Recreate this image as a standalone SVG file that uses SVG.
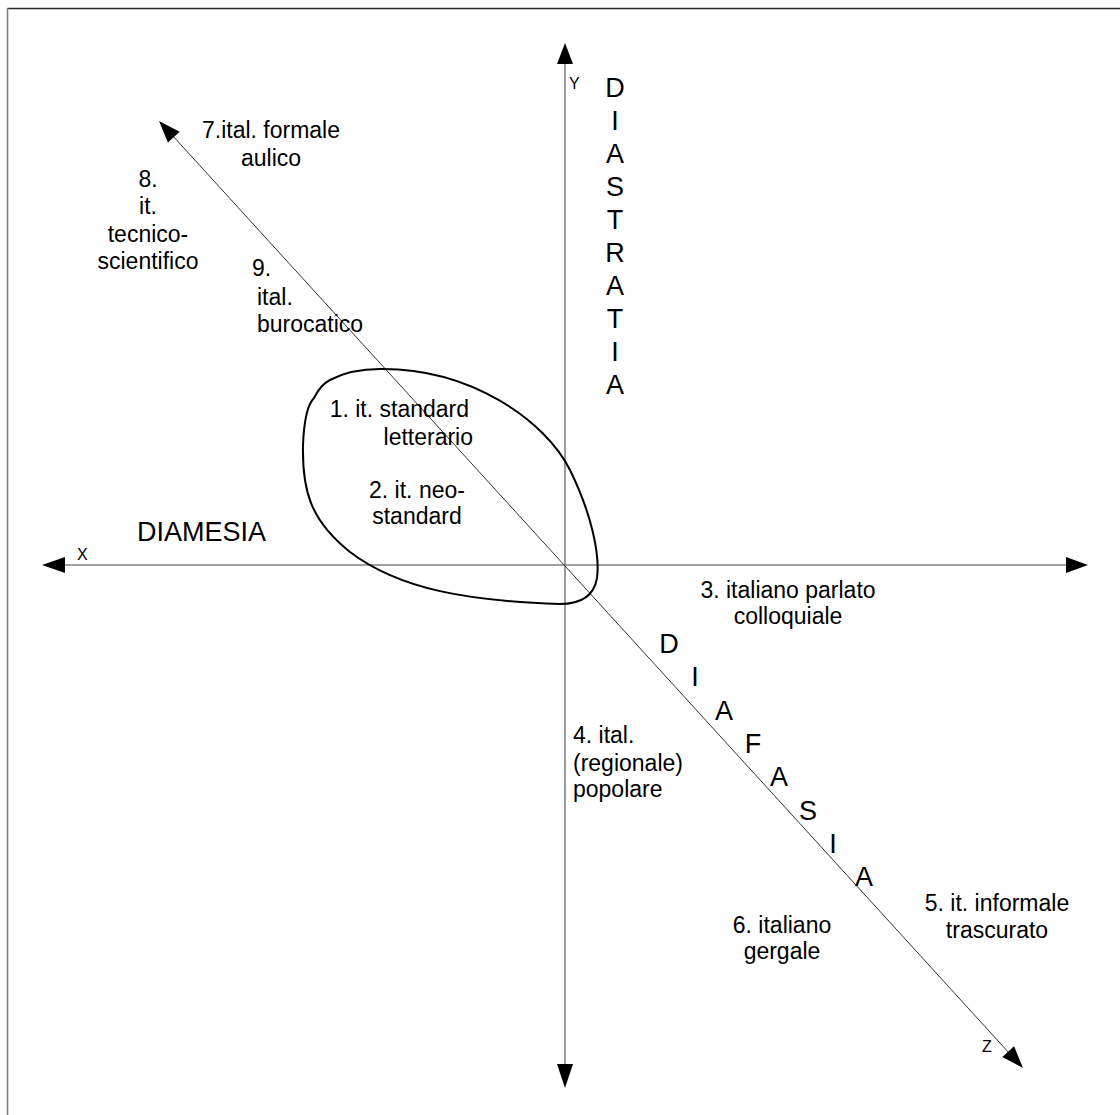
<svg xmlns="http://www.w3.org/2000/svg" width="1120" height="1115" viewBox="0 0 1120 1115">
<style>
text{font-family:"Liberation Sans",Arial,sans-serif;fill:#000}
.lb{font-size:23px}
.big{font-size:27px}
.ax{font-size:16px}
.axis{stroke:#808080;stroke-width:1.6;fill:none}
.diag{stroke:#333;stroke-width:1;fill:none}
.head{fill:#000;stroke:none}
</style>
<rect width="1120" height="1115" fill="#fff"/>
<g id="frame">
<line x1="7.5" y1="8.5" x2="1120" y2="8.5" stroke="#2a2a2a" stroke-width="1.6"/>
<line x1="7.5" y1="8" x2="7.5" y2="1115" stroke="#808080" stroke-width="1.6"/>
</g>
<g id="connectors">
<line class="axis" x1="64" y1="565" x2="1067" y2="565"/>
<polygon class="head" points="42,565 65,557 65,573"/>
<polygon class="head" points="1088,565 1066,557 1066,573"/>
<line class="axis" x1="565" y1="63" x2="565" y2="1065"/>
<polygon class="head" points="565,43 557,64 573,64"/>
<polygon class="head" points="565,1088 557,1064 573,1064"/>
<line class="diag" x1="172" y1="135" x2="1010" y2="1054"/>
<polygon class="head" points="159,121 179.7,131.8 167.9,142.6"/>
<polygon class="head" points="1023,1068 1014.1,1046.3 1002.3,1057.1"/>
</g>
<g id="blob">
<path d="M 380,369 C 470,368 545,420 570,470 C 592,515 600,555 597,578 C 594,596 580,604 560,604 C 470,601 400,590 350,552 C 310,520 302,490 303,445 C 304,420 307,405 314,398 C 318,390 322,384 330,380 C 345,372 360,369 380,369 Z" fill="none" stroke="#000" stroke-width="2"/>
</g>
<g id="axis-labels">
<text class="ax" x="569" y="89">Y</text>
<text class="ax" x="77" y="560">X</text>
<text class="ax" x="982" y="1052">Z</text>
</g>
<g id="diamesia"><text class="big" x="137" y="541">DIAMESIA</text></g>
<g id="diastratia" class="big" text-anchor="middle">
<text x="615" y="97">D</text>
<text x="615" y="130">I</text>
<text x="615" y="163">A</text>
<text x="615" y="196">S</text>
<text x="615" y="229">T</text>
<text x="615" y="262">R</text>
<text x="615" y="295">A</text>
<text x="615" y="328">T</text>
<text x="615" y="361">I</text>
<text x="615" y="394">A</text>
</g>
<g id="diafasia" class="big" text-anchor="middle">
<text x="669" y="653">D</text>
<text x="695" y="686">I</text>
<text x="724" y="720">A</text>
<text x="753" y="753">F</text>
<text x="779" y="786">A</text>
<text x="808" y="820">S</text>
<text x="833" y="853">I</text>
<text x="864" y="886">A</text>
</g>
<g id="n7" class="lb" text-anchor="middle">
<text x="271" y="138">7.ital. formale</text>
<text x="271" y="166">aulico</text>
</g>
<g id="n8" class="lb" text-anchor="middle">
<text x="148" y="187">8.</text>
<text x="148" y="214">it.</text>
<text x="148" y="242">tecnico-</text>
<text x="148" y="269">scientifico</text>
</g>
<g id="n9" class="lb">
<text x="252" y="276">9.</text>
<text x="257" y="305">ital.</text>
<text x="257" y="332">burocatico</text>
</g>
<g id="n1" class="lb" text-anchor="end">
<text x="469" y="417">1. it. standard</text>
<text x="473" y="445">letterario</text>
</g>
<g id="n2" class="lb" text-anchor="middle">
<text x="417" y="498">2. it. neo-</text>
<text x="417" y="524">standard</text>
</g>
<g id="n3" class="lb" text-anchor="middle">
<text x="788" y="598">3. italiano parlato</text>
<text x="788" y="624">colloquiale</text>
</g>
<g id="n4" class="lb">
<text x="573" y="743">4. ital.</text>
<text x="573" y="771">(regionale)</text>
<text x="573" y="797">popolare</text>
</g>
<g id="n5" class="lb" text-anchor="middle">
<text x="997" y="911">5. it. informale</text>
<text x="997" y="938">trascurato</text>
</g>
<g id="n6" class="lb" text-anchor="middle">
<text x="782" y="933">6. italiano</text>
<text x="782" y="959">gergale</text>
</g>
</svg>
